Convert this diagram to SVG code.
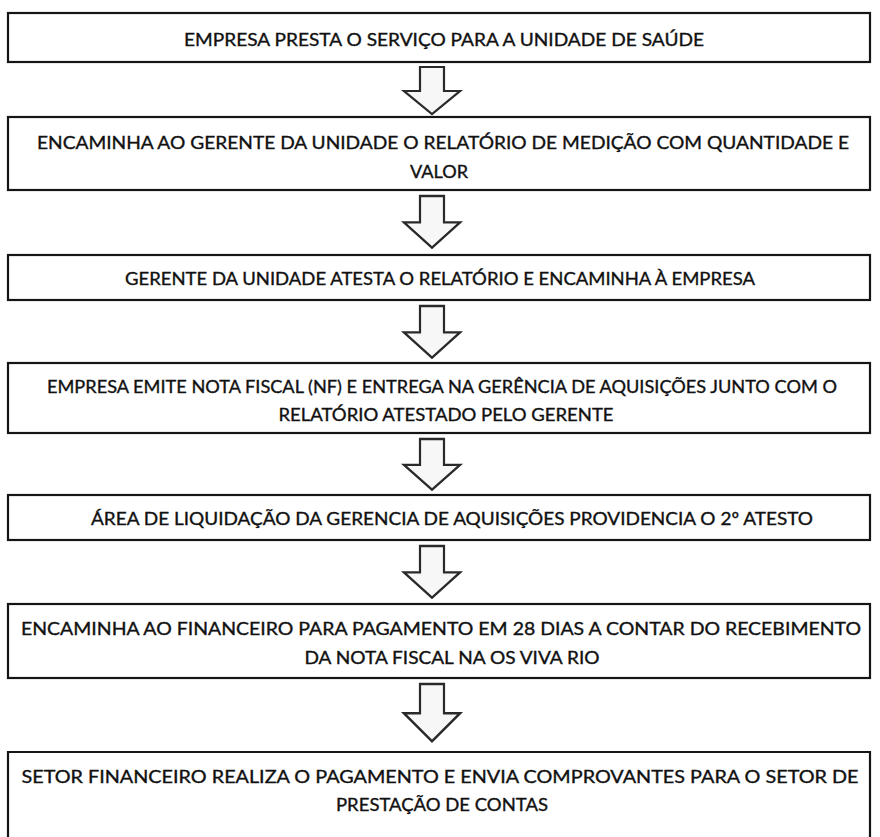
<svg xmlns="http://www.w3.org/2000/svg" width="880" height="837" viewBox="0 0 880 837">
<style>
.box{fill:#fff;stroke:#151515;stroke-width:2.2}
.t{font-family:Lato,"Open Sans","Liberation Sans",sans-serif;font-size:18px;fill:#111;stroke:#111;stroke-width:0.35;text-anchor:middle;dominant-baseline:central}
.arr{fill:#f7f7f7;stroke:#2a2a2a;stroke-width:2.2;stroke-linejoin:miter}
</style>
<defs>
<path id="arrow" d="M-12,0 H12 V24 H28 L0,47 L-28,24 H-12 Z"/>
</defs>
<rect width="880" height="837" fill="#fff"/>
<g id="connectors">
<use href="#arrow" class="arr" transform="translate(432,67)"/>
<use href="#arrow" class="arr" transform="translate(432,196) scale(1,1.1)"/>
<use href="#arrow" class="arr" transform="translate(432,306) scale(1,1.1)"/>
<use href="#arrow" class="arr" transform="translate(432,439) scale(1,1.08)"/>
<use href="#arrow" class="arr" transform="translate(432,546) scale(1,1.1)"/>
<use href="#arrow" class="arr" transform="translate(432,684) scale(1,1.22)"/>
</g>
<g id="n1">
<rect class="box" x="8" y="13" width="862" height="49"/>
<text class="t" x="444" y="39" textLength="520" lengthAdjust="spacingAndGlyphs">EMPRESA PRESTA O SERVIÇO PARA A UNIDADE DE SAÚDE</text>
</g>
<g id="n2">
<rect class="box" x="8" y="117" width="862" height="73"/>
<text class="t" x="443" y="142" textLength="812" lengthAdjust="spacingAndGlyphs">ENCAMINHA AO GERENTE DA UNIDADE O RELATÓRIO DE MEDIÇÃO COM QUANTIDADE E</text>
<text class="t" x="439" y="171" textLength="58" lengthAdjust="spacingAndGlyphs">VALOR</text>
</g>
<g id="n3">
<rect class="box" x="8" y="255" width="862" height="45"/>
<text class="t" x="440" y="278" textLength="630" lengthAdjust="spacingAndGlyphs">GERENTE DA UNIDADE ATESTA O RELATÓRIO E ENCAMINHA À EMPRESA</text>
</g>
<g id="n4">
<rect class="box" x="8" y="363" width="862" height="70"/>
<text class="t" x="442" y="386" textLength="790" lengthAdjust="spacingAndGlyphs">EMPRESA EMITE NOTA FISCAL (NF) E ENTREGA NA GERÊNCIA DE AQUISIÇÕES JUNTO COM O</text>
<text class="t" x="446" y="414" textLength="335" lengthAdjust="spacingAndGlyphs">RELATÓRIO ATESTADO PELO GERENTE</text>
</g>
<g id="n5">
<rect class="box" x="8" y="495" width="862" height="45"/>
<text class="t" x="452" y="518" textLength="722" lengthAdjust="spacingAndGlyphs">ÁREA DE LIQUIDAÇÃO DA GERENCIA DE AQUISIÇÕES PROVIDENCIA O 2º ATESTO</text>
</g>
<g id="n6">
<rect class="box" x="8" y="604" width="862" height="74"/>
<text class="t" x="441" y="628" textLength="840" lengthAdjust="spacingAndGlyphs">ENCAMINHA AO FINANCEIRO PARA PAGAMENTO EM 28 DIAS A CONTAR DO RECEBIMENTO</text>
<text class="t" x="452" y="657" textLength="295" lengthAdjust="spacingAndGlyphs">DA NOTA FISCAL NA OS VIVA RIO</text>
</g>
<g id="n7">
<path class="box" d="M8,838 V752 H870 V838"/>
<text class="t" x="440" y="776" textLength="837" lengthAdjust="spacingAndGlyphs">SETOR FINANCEIRO REALIZA O PAGAMENTO E ENVIA COMPROVANTES PARA O SETOR DE</text>
<text class="t" x="442" y="804" textLength="212" lengthAdjust="spacingAndGlyphs">PRESTAÇÃO DE CONTAS</text>
</g>
</svg>
